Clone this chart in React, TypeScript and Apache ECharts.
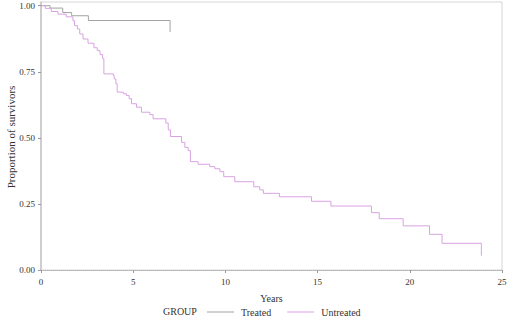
import React, { useEffect, useRef } from "react";
import * as echarts from "echarts";

const treatedTimes = [0, 0.49, 1.18, 1.66, 2.57, 7.0];
const treatedSurv = [1.0, 0.991, 0.974, 0.962, 0.944, 0.9];

const untreatedTimes = [
  0, 0.23, 0.56, 0.92, 1.37, 1.73, 1.82, 1.97, 2.1, 2.28, 2.55, 2.87, 3.05, 3.2, 3.34, 3.41,
  3.92, 3.97, 4.06, 4.13, 4.46, 4.64, 4.78, 4.91, 5.18, 5.45, 5.9, 6.08, 6.77, 6.9, 7.02,
  7.62, 7.8, 7.98, 8.1, 8.52, 9.15, 9.43, 9.7, 9.91, 10.51, 11.54, 11.86, 12.06, 12.93,
  14.67, 15.72, 17.92, 18.34, 19.64, 21.07, 21.75, 23.88,
];
const untreatedSurv = [
  1.0, 0.99, 0.978, 0.968, 0.958, 0.943, 0.925, 0.912, 0.893, 0.874, 0.858, 0.841, 0.83, 0.815,
  0.8, 0.742, 0.736, 0.723, 0.705, 0.673, 0.667, 0.66, 0.648, 0.629, 0.616, 0.597, 0.588,
  0.572, 0.556, 0.53, 0.505, 0.483, 0.464, 0.452, 0.41, 0.4, 0.391, 0.383, 0.372, 0.353,
  0.334, 0.315, 0.303, 0.29, 0.277, 0.26, 0.242, 0.217, 0.194, 0.167, 0.135, 0.101, 0.054,
];

const xTicks = [0, 5, 10, 15, 20, 25];
const yTicks = [0, 0.25, 0.5, 0.75, 1.0];
const groupLabel = "GROUP";
const seriesNames = ["Treated", "Untreated"];
const xName = "Years";
const yName = "Proportion of survivors";

const FONT = "Liberation Serif";
const TEXT = "#333333";
const GRAY = "#a3a3a3";
const PINK = "#d9a2e2";

export default function App() {
  const ref = useRef<HTMLDivElement>(null);
  useEffect(() => {
    if (!ref.current) return;
    const chart = echarts.init(ref.current, null, { renderer: "svg" });
    const zip = (t: number[], s: number[]) => t.map((v, i) => [v, s[i]]);
    chart.setOption({
      animation: false,
      backgroundColor: "#ffffff",
      textStyle: { fontFamily: FONT },
      grid: {
        left: 41,
        right: 12,
        top: 2,
        bottom: 53,
        containLabel: false,
        outerBoundsMode: "none",
        show: true,
        borderColor: "#d6d6d6",
        borderWidth: 1,
      },
      legend: {
        data: seriesNames,
        left: 202,
        top: 302,
        icon: "rect",
        itemWidth: 27,
        itemHeight: 1,
        itemGap: 16,
        textStyle: { fontFamily: FONT, fontSize: 10, color: TEXT, padding: [0, 0, 0, 2] },
      },
      graphic: [
        {
          type: "text",
          left: 163,
          top: 306,
          style: { text: groupLabel, fontFamily: FONT, fontSize: 10, fill: TEXT },
        },
        {
          type: "text",
          x: 11,
          y: 137,
          rotation: Math.PI / 2,
          style: {
            text: yName,
            fontFamily: FONT,
            fontSize: 11,
            fill: TEXT,
            align: "center",
            verticalAlign: "middle",
          },
        },
      ],
      xAxis: {
        type: "value",
        min: 0,
        max: 25,
        interval: 5,
        name: xName,
        nameLocation: "middle",
        nameGap: 23,
        nameTextStyle: { fontFamily: FONT, fontSize: 10, color: TEXT },
        axisLine: { show: true, lineStyle: { color: "#b0b0b0", type: "dotted", width: 1 } },
        axisTick: { show: true, length: 3, lineStyle: { color: "#999" }, customValues: xTicks },
        axisLabel: { fontFamily: FONT, fontSize: 9, color: TEXT, margin: 7, customValues: xTicks },
        splitLine: { show: false },
      },
      yAxis: {
        type: "value",
        min: 0,
        max: 1.014,
        axisLine: { show: true, lineStyle: { color: "#c4c4c4", width: 1.5 } },
        axisTick: { show: true, length: 3, lineStyle: { color: "#999" }, customValues: yTicks },
        axisLabel: {
          fontFamily: FONT,
          fontSize: 9,
          color: TEXT,
          margin: 6,
          customValues: yTicks,
          formatter: (v: number) => v.toFixed(2),
        },
        splitLine: { show: false },
      },
      series: [
        {
          name: seriesNames[0],
          type: "line",
          step: "end",
          symbol: "none",
          data: zip(treatedTimes, treatedSurv),
          lineStyle: { color: GRAY, width: 1 },
          itemStyle: { color: GRAY },
        },
        {
          name: seriesNames[1],
          type: "line",
          step: "end",
          symbol: "none",
          data: zip(untreatedTimes, untreatedSurv),
          lineStyle: { color: PINK, width: 1 },
          itemStyle: { color: PINK },
        },
      ],
    });
    return () => chart.dispose();
  }, []);
  return <div ref={ref} style={{ width: 514, height: 323, position: "fixed", left: 0, top: 0 }} />;
}
